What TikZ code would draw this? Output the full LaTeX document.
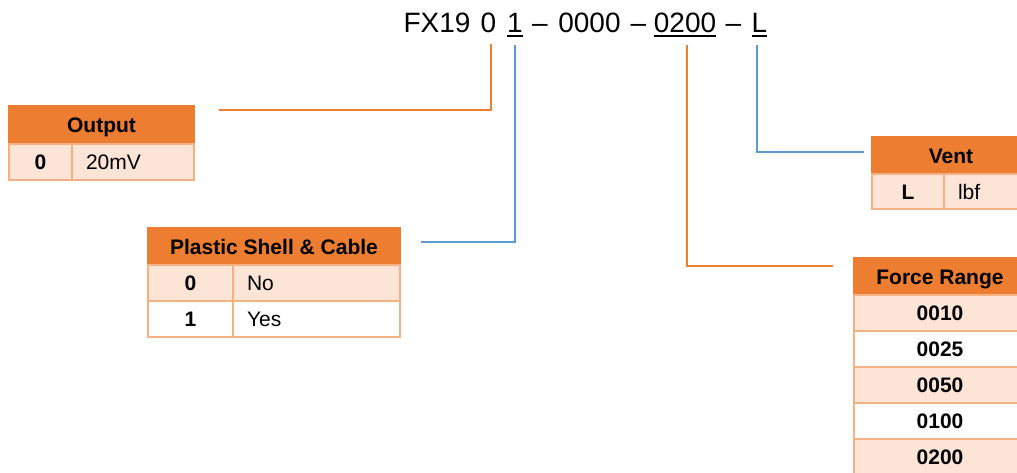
\documentclass[tikz,border=0pt]{standalone}
\usepackage{fontspec}
\setmainfont{Liberation Sans}
\definecolor{hdr}{HTML}{ED7D31}
\definecolor{lite}{HTML}{FCE4D6}
\definecolor{brd}{HTML}{F4B183}
\definecolor{bl}{HTML}{5B9BD5}
\begin{document}
\begin{tikzpicture}[x=1pt,y=-1pt,
  tcell/.style={draw=brd, line width=1.6pt, inner sep=0pt, text height=15pt, text depth=0pt, font=\fontsize{21}{25}\selectfont},
  hcell/.style={tcell, draw=hdr, fill=hdr, font=\fontsize{21}{25}\selectfont\bfseries},
  kcell/.style={tcell, font=\fontsize{21}{25}\selectfont\bfseries},
  vcell/.style={tcell, align=left, inner xsep=14pt},
  ttl/.style={anchor=base, inner sep=0pt, font=\fontsize{28}{30}\selectfont},
  uline/.style={line width=2pt},
  oline/.style={draw=hdr, line width=2.6pt},
  bline/.style={draw=bl, line width=2.6pt}]
\useasboundingbox (0,0) rectangle (1017,472);
\clip (0,0) rectangle (1017,472);
% title
\node[ttl] (tFX) at (437,32) {FX19};
\node[ttl] (t0) at (488.5,32) {0};
\node[ttl] (t1) at (515,32) {1};
\node[ttl] (td1) at (540,32) {–};
\node[ttl] (t0000) at (589.5,32) {0000};
\node[ttl] (td2) at (638.5,32) {–};
\node[ttl] (t0200) at (685,32) {0200};
\node[ttl] (td3) at (733.5,32) {–};
\node[ttl] (tL) at (759.5,32) {L};
\draw[uline] ([yshift=-4pt]t1.base west) -- ([yshift=-4pt]t1.base east);
\draw[uline] ([yshift=-4pt]t0200.base west) -- ([yshift=-4pt]t0200.base east);
\draw[uline] ([yshift=-4pt]tL.base west) -- ([yshift=-4pt]tL.base east);
% Output table
\node[hcell, minimum width=185pt, minimum height=38pt] (outH) at (101.5,125) {Output};
\node[kcell, fill=lite, minimum width=63pt, minimum height=36pt] (out0k) at (40.5,162) {0};
\node[vcell, fill=lite, text width=94pt, minimum height=36pt] (out0v) at (133,162) {20mV};
% Plastic table
\node[hcell, minimum width=252pt, minimum height=37pt] (plH) at (274,246.5) {Plastic Shell \& Cable};
\node[kcell, fill=lite, minimum width=85pt, minimum height=36pt] (pl0k) at (190.5,283) {0};
\node[vcell, fill=lite, text width=139pt, minimum height=36pt] (pl0v) at (316.5,283) {No};
\node[kcell, fill=white, minimum width=85pt, minimum height=36pt] (pl1k) at (190.5,319) {1};
\node[vcell, fill=white, text width=139pt, minimum height=36pt] (pl1v) at (316.5,319) {Yes};
% Vent table
\node[hcell, minimum width=158pt, minimum height=37pt] (vH) at (951,155.5) {Vent};
\node[kcell, fill=lite, minimum width=72pt, minimum height=35pt] (vLk) at (908,191.5) {L};
\node[vcell, fill=lite, text width=58pt, minimum height=35pt] (vLv) at (987,191.5) {lbf};
% Force range table
\node[hcell, minimum width=172pt, minimum height=37pt] (fH) at (940,276.5) {Force Range};
\node[kcell, fill=lite, minimum width=172pt, minimum height=36pt] (f1) at (940,313) {0010};
\node[kcell, fill=white, minimum width=172pt, minimum height=36pt] (f2) at (940,349) {0025};
\node[kcell, fill=lite, minimum width=172pt, minimum height=36pt] (f3) at (940,385) {0050};
\node[kcell, fill=white, minimum width=172pt, minimum height=36pt] (f4) at (940,421) {0100};
\node[kcell, fill=lite, minimum width=172pt, minimum height=36pt] (f5) at (940,457) {0200};
% connectors
\coordinate (c0a) at (491,44);
\coordinate (c0b) at (219,110);
\coordinate (c1a) at (515,45);
\coordinate (c1b) at (421,242);
\coordinate (c2a) at (687,45);
\coordinate (c2b) at (833,266);
\coordinate (c3a) at (757,45);
\coordinate (c3b) at (864,152);
\draw[oline] (c0a) |- (c0b);
\draw[bline] (c1a) |- (c1b);
\draw[oline] (c2a) |- (c2b);
\draw[bline] (c3a) |- (c3b);
\end{tikzpicture}
\end{document}
